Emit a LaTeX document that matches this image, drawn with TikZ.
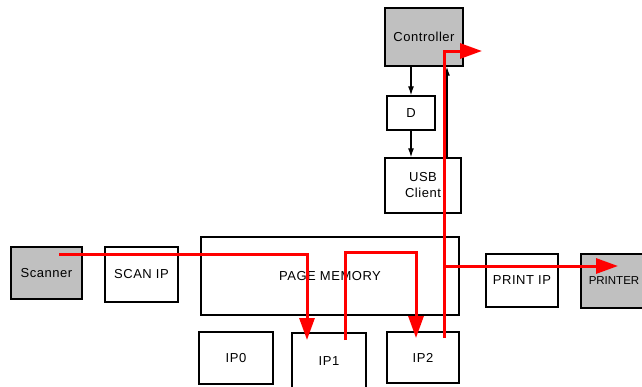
\documentclass[tikz,border=0pt]{standalone}
\usepackage{fontspec}
\setmainfont[LetterSpace=4]{Liberation Sans}
\newfontfamily\tightfont{Liberation Sans}
\usetikzlibrary{arrows.meta}
\definecolor{boxgray}{HTML}{C0C0C0}
\definecolor{flowred}{HTML}{FF0000}
\begin{document}
\begin{tikzpicture}[x=1pt,y=-1pt,
  box/.style={draw=black, line width=1.4pt, inner sep=0pt, align=center,
    font=\fontsize{13}{16}\selectfont},
  graybox/.style={box, fill=boxgray},
  ctrlarrow/.style={draw=black, line width=1.2pt, -{Latex[length=9pt,width=6pt]}},
  flow/.style={draw=flowred, line width=3pt, -{Triangle[length=22pt,width=15pt]}}]
\useasboundingbox (0,0) rectangle (642,386);
\clip (0,0) rectangle (642,386);
\fill[white] (0,0) rectangle (642,386);
% nodes
\node[graybox, minimum width=78pt, minimum height=58pt] (ctrl) at (424,37) {Controller};
\node[box, minimum width=48pt, minimum height=34pt] (d) at (411,113) {D};
\node[box, minimum width=76pt, minimum height=55pt] (usb) at (423,185.5) {USB\\Client};
\node[graybox, minimum width=71pt, minimum height=52pt] (scan) at (46.5,273) {Scanner};
\node[box, minimum width=73pt, minimum height=55pt] (scanip) at (141.5,274.5) {SCAN IP};
\node[box, minimum width=258pt, minimum height=78pt] (pm) at (330,276) {PAGE MEMORY};
\node[box, minimum width=72pt, minimum height=53pt] (printip) at (522,280.5) {PRINT IP};
\node[graybox, minimum width=66pt, minimum height=54pt, font=\tightfont\fontsize{11.5}{14}\selectfont] (printer) at (614,281) {PRINTER};
\node[box, minimum width=74pt, minimum height=52pt] (ip0) at (236,358) {IP0};
\node[box, minimum width=74pt, minimum height=56pt] (ip1) at (329,361) {IP1};
\node[box, minimum width=72pt, minimum height=51pt] (ip2) at (423,357.5) {IP2};
% black control arrows
\coordinate (cx) at (447,0);
\draw[ctrlarrow] (ctrl.south -| d.north) -- (d.north);
\draw[ctrlarrow] (d.south) -- (d.south |- usb.north);
\draw[ctrlarrow] (usb.north -| cx) -- (ctrl.south -| cx);
% red data flow
\coordinate (s0) at (59,254);
\coordinate (t1) at (307,340);
\coordinate (u1) at (345,340);
\coordinate (k1) at (345,252);
\coordinate (t2) at (416,338);
\coordinate (u2) at (444,338);
\coordinate (t3) at (482,51);
\coordinate (j) at (444,266);
\coordinate (t4) at (618,266);
\draw[flow] (s0) -| (t1);
\draw[flow] (u1) -- (k1) -| (t2);
\draw[flow] (u2) |- (t3);
\draw[flow] (j) -- (t4);
\end{tikzpicture}
\end{document}
